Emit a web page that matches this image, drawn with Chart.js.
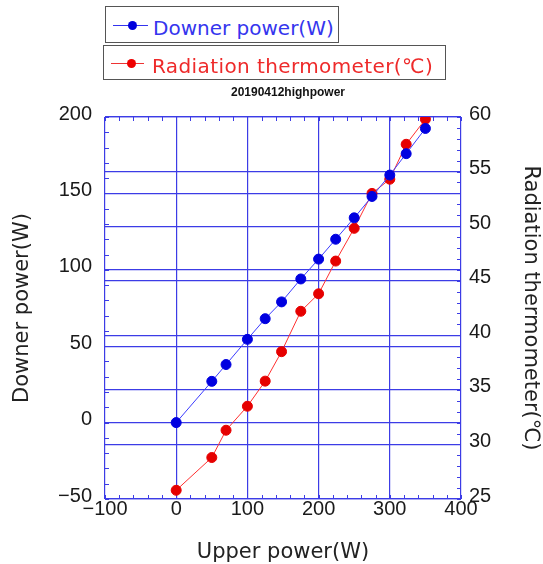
<!DOCTYPE html>
<html>
<head>
<meta charset="utf-8">
<script src="https://cdn.jsdelivr.net/npm/chart.js@4.4.1/dist/chart.umd.min.js"></script>
<style>
  html, body { margin: 0; padding: 0; background: #fff; }
  #wrap { position: relative; width: 543px; height: 564px; }
  #chart { position: absolute; left: 0; top: 0; }
  .lg { position: absolute; border: 1px solid #555; background: #fff; box-sizing: border-box; font: 20px 'DejaVu Sans', sans-serif; white-space: nowrap; }
  .lg .ln { position: absolute; height: 1px; }
  .lg .dot { position: absolute; width: 9px; height: 9px; border-radius: 50%; margin: -4px 0 0 -4px; }
  .lg .tx { position: absolute; line-height: 20px; }
  #ttl { position: absolute; left: 188px; width: 200px; top: 85px; text-align: center; font: bold 12px 'Liberation Sans', Arial, sans-serif; color: #111; }
</style>
</head>
<body>
<div id="wrap">
  <canvas id="chart" width="543" height="564"></canvas>
  <div class="lg" style="left:105px;top:6px;width:234px;height:37px;">
    <div class="ln" style="left:7px;top:18px;width:35px;background:#3333ee;"></div>
    <div class="dot" style="left:26px;top:18px;background:#0000dd;"></div>
    <div class="tx" style="left:47px;top:11px;color:#3535ee;">Downer power(W)</div>
  </div>
  <div class="lg" style="left:103px;top:45px;width:343px;height:35px;">
    <div class="ln" style="left:7px;top:17px;width:33px;background:#ee3333;"></div>
    <div class="dot" style="left:27px;top:17px;background:#ee0000;"></div>
    <div class="tx" style="left:48px;top:10px;color:#ee2a2a;letter-spacing:0.4px;">Radiation thermometer(℃)</div>
  </div>
  <div id="ttl">20190412highpower</div>
</div>
<script>
// Data
const upperPower = [0, 50, 70, 100, 125, 148, 175, 200, 224, 250, 275, 300, 323, 350];
const downerPower = [0, 27, 38, 54.5, 68, 79, 94, 107, 120, 134, 148, 162, 176, 192.5];
const radiationTemp = [25.8, 28.8, 31.3, 33.5, 35.8, 38.5, 42.2, 43.8, 46.8, 49.8, 53.0, 54.3, 57.5, 59.8];

const xRange = [-100, 400];
const yRange = [-50, 200];
const y1Range = [25, 60];
const xMinorStep = 20;
const yMinorStep = 10;
const y1MinorStep = 1;

const gridBlue = '#3c3ce6';
const tickFont = { family: 'Liberation Sans', size: 20, lineHeight: 1 };
const titleFont = { family: 'DejaVu Sans', size: 21, lineHeight: 1 };
const minusFmt = (v) => (v < 0 ? '\u2212' + Math.abs(v) : String(v));

// small inward ticks on the frame
const minorTicks = {
  id: 'minorTicks',
  beforeDatasetsDraw(chart) {
    const { ctx, chartArea: a, scales } = chart;
    const len = 4;
    ctx.save();
    ctx.strokeStyle = gridBlue;
    ctx.lineWidth = 1;
    ctx.beginPath();
    for (let v = xRange[0]; v <= xRange[1]; v += xMinorStep) {
      const px = Math.round(scales.x.getPixelForValue(v)) + 0.5;
      ctx.moveTo(px, a.bottom); ctx.lineTo(px, a.bottom - len);
      ctx.moveTo(px, a.top); ctx.lineTo(px, a.top + len);
    }
    for (let v = yRange[0]; v <= yRange[1]; v += yMinorStep) {
      const py = Math.round(scales.y.getPixelForValue(v)) + 0.5;
      ctx.moveTo(a.left, py); ctx.lineTo(a.left + len, py);
    }
    for (let v = y1Range[0]; v <= y1Range[1]; v += y1MinorStep) {
      const py = Math.round(scales.y1.getPixelForValue(v)) + 0.5;
      ctx.moveTo(a.right, py); ctx.lineTo(a.right - len, py);
    }
    ctx.stroke();
    ctx.restore();
  }
};

new Chart(document.getElementById('chart'), {
  type: 'scatter',
  data: {
    datasets: [
      {
        label: 'Downer power(W)',
        data: upperPower.map((x, i) => ({ x: x, y: downerPower[i] })),
        yAxisID: 'y',
        showLine: true,
        borderColor: '#3b3bff',
        borderWidth: 1,
        pointBackgroundColor: '#0000e0',
        pointBorderColor: '#0000e0',
        pointRadius: 5,
      },
      {
        label: 'Radiation thermometer(℃)',
        data: upperPower.map((x, i) => ({ x: x, y: radiationTemp[i] })),
        yAxisID: 'y1',
        showLine: true,
        borderColor: '#ff3030',
        borderWidth: 1,
        pointBackgroundColor: '#e60000',
        pointBorderColor: '#e60000',
        pointRadius: 5,
      },
    ],
  },
  options: {
    responsive: false,
    animation: false,
    devicePixelRatio: 1,
    layout: { padding: { top: 117, left: 0, right: 0, bottom: 0 } },
    plugins: { legend: { display: false }, title: { display: false }, tooltip: { enabled: false } },
    scales: {
      x: {
        type: 'linear',
        min: xRange[0], max: xRange[1],
        afterFit: (s) => { s.height = 65; },
        grid: { color: gridBlue, lineWidth: 1.2, drawTicks: false },
        border: { display: false },
        ticks: { stepSize: 100, padding: 0, color: '#1a1a1a', font: tickFont, maxRotation: 0, callback: minusFmt },
        title: { display: true, text: 'Upper power(W)', color: '#222', font: titleFont, padding: { top: 0, bottom: 0.5 } },
      },
      y: {
        type: 'linear',
        position: 'left',
        min: yRange[0], max: yRange[1],
        afterFit: (s) => { s.width = 105; },
        grid: { color: gridBlue, lineWidth: 1.2, drawTicks: false },
        border: { display: false },
        ticks: { stepSize: 50, padding: 13, labelOffset: -3, color: '#1a1a1a', font: tickFont, callback: minusFmt },
        title: { display: true, text: 'Downer power(W)', color: '#222', font: titleFont, padding: { top: 12.5, bottom: 0 } },
      },
      y1: {
        type: 'linear',
        position: 'right',
        min: y1Range[0], max: y1Range[1],
        afterFit: (s) => { s.width = 82; },
        grid: { color: gridBlue, lineWidth: 1.2, drawTicks: false },
        border: { display: false },
        ticks: { stepSize: 5, padding: 8, labelOffset: -3, color: '#1a1a1a', font: tickFont },
        title: { display: true, text: 'Radiation thermometer(℃)', color: '#222', font: titleFont, padding: { top: 2.5, bottom: 0 } },
      },
    },
  },
  plugins: [minorTicks],
});
</script>
</body>
</html>
